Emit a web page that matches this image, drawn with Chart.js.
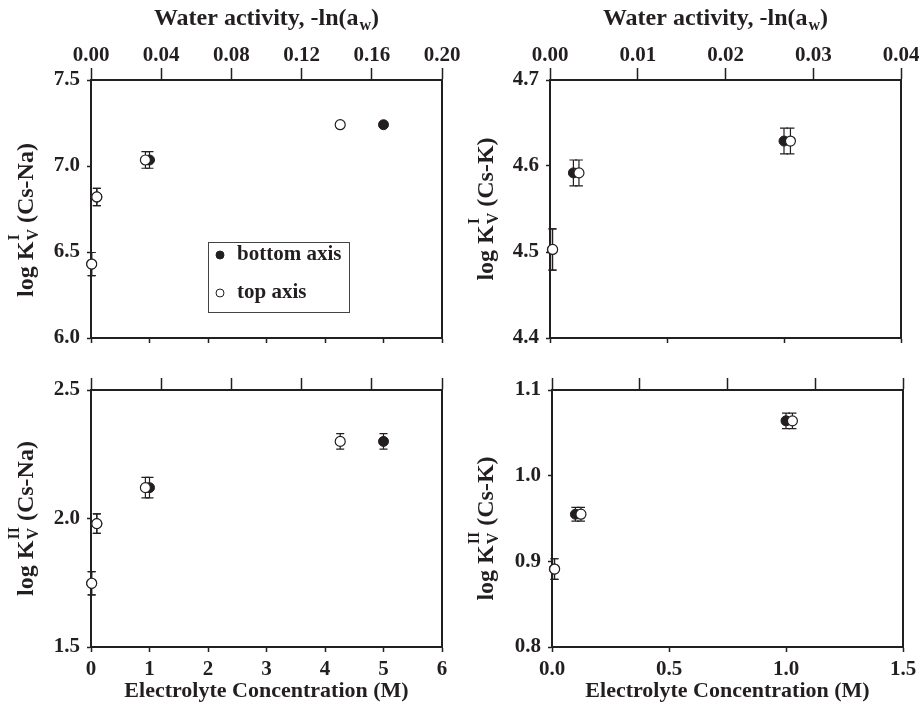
<!DOCTYPE html>
<html>
<head>
<meta charset="utf-8">
<script src="https://cdn.jsdelivr.net/npm/chart.js@4"></script>
<style>
  body { margin: 0; background: #fff; }
  #wrap { position: relative; width: 919px; height: 708px; background: #fff; }
  canvas { position: absolute; }
</style>
</head>
<body>
<div id="wrap">
  <canvas id="c-tl" width="460" height="360" style="left:0;top:0"></canvas>
  <canvas id="c-tr" width="459" height="360" style="left:460px;top:0"></canvas>
  <canvas id="c-bl" width="460" height="348" style="left:0;top:360px"></canvas>
  <canvas id="c-br" width="459" height="348" style="left:460px;top:360px"></canvas>
</div>
<script>
// Cs-Na exchange (NaCl background)
const concNa = [0.01, 0.1, 1.0, 5.0];
const awNa = [0.0004, 0.0033, 0.031, 0.142];
const kvINa = [6.43, 6.82, 7.035, 7.24];
const kvINaErr = [0.067, 0.05, 0.048, 0.015];
const kvIINa = [1.748, 1.98, 2.12, 2.30];
const kvIINaErr = [0.045, 0.038, 0.04, 0.03];

// Cs-K exchange (KCl background)
const concK = [0.01, 0.1, 1.0];
const awK = [0.0003, 0.0033, 0.0274];
const kvIK = [4.503, 4.592, 4.629];
const kvIKErr = [0.024, 0.015, 0.015];
const kvIIK = [0.891, 0.955, 1.064];
const kvIIKErr = [0.012, 0.008, 0.009];

const legendLabels = ['bottom axis', 'top axis'];
const topTitle = ['Water activity, -ln(a', 'w', ')'];
const bottomTitle = 'Electrolyte Concentration (M)';

const INK = '#231f20';
const FAMILY = '"Liberation Serif", "Times New Roman", serif';
const TITLE = 'bold 24px ' + FAMILY;
const SMALL = 'bold 16px ' + FAMILY;
const LEGEND = 'bold 21px ' + FAMILY;

Chart.defaults.font.family = FAMILY;
Chart.defaults.font.weight = 'bold';
Chart.defaults.font.size = 21;
Chart.defaults.color = INK;

const pair = (xs, ys) => xs.map((x, i) => ({x: x, y: ys[i]}));

// error bars drawn under the markers
const errorBars = {
  id: 'errorBars',
  beforeDatasetsDraw(chart) {
    const ctx = chart.ctx;
    chart.data.datasets.forEach((ds, i) => {
      const meta = chart.getDatasetMeta(i);
      const ys = chart.scales[meta.yAxisID];
      ctx.save();
      ctx.strokeStyle = INK;
      ctx.lineWidth = 1.2;
      meta.data.forEach((pt, j) => {
        const v = ds.data[j].y, e = ds.errors[j];
        const y1 = ys.getPixelForValue(v - e), y2 = ys.getPixelForValue(v + e);
        ctx.beginPath();
        ctx.moveTo(pt.x, y1); ctx.lineTo(pt.x, y2);
        ctx.moveTo(pt.x - 4, y1); ctx.lineTo(pt.x + 4, y1);
        ctx.moveTo(pt.x - 4, y2); ctx.lineTo(pt.x + 4, y2);
        ctx.stroke();
      });
      ctx.restore();
    });
  }
};

// titles with sub/superscripts
function partWidth(ctx, p) {
  if (typeof p === 'string') { ctx.font = TITLE; return ctx.measureText(p).width; }
  ctx.font = SMALL;
  return Math.max(ctx.measureText(p.sub || '').width, ctx.measureText(p.sup || '').width) + 1;
}
function drawRich(ctx, parts, cx, cy, angle) {
  const total = parts.reduce((s, p) => s + partWidth(ctx, p), 0);
  ctx.save();
  ctx.translate(cx, cy);
  ctx.rotate(angle);
  ctx.fillStyle = INK;
  ctx.textBaseline = 'alphabetic';
  ctx.textAlign = 'left';
  let x = -total / 2;
  parts.forEach(p => {
    const w = partWidth(ctx, p);
    if (typeof p === 'string') {
      ctx.font = TITLE; ctx.fillText(p, x, 8);
    } else {
      ctx.font = SMALL;
      if (p.sub) ctx.fillText(p.sub, x + 1, 13);
      if (p.sup) ctx.fillText(p.sup, x + 1, -6);
    }
    x += w;
  });
  ctx.restore();
}
const richTitles = {
  id: 'richTitles',
  afterDraw(chart, args, opts) {
    const ctx = chart.ctx, ca = chart.chartArea;
    const cy = (ca.top + ca.bottom) / 2 + opts.yShift;
    drawRich(ctx, ['log K', {sub: 'V', sup: opts.roman}, ' (' + opts.ion + ')'], 25, cy, -Math.PI / 2);
    if (opts.showTop) {
      drawRich(ctx, [topTitle[0], {sub: topTitle[1]}, topTitle[2]], (ca.left + ca.right) / 2 + opts.topShift, 17, 0);
    }
  }
};

// legend box inside the plot area
const boxLegend = {
  id: 'boxLegend',
  afterDraw(chart, args, opts) {
    if (!opts.show) return;
    const ctx = chart.ctx, ca = chart.chartArea;
    const bx = ca.left + opts.left, by = ca.top + opts.top;
    ctx.save();
    ctx.strokeStyle = '#444';
    ctx.lineWidth = 1;
    ctx.strokeRect(bx + 0.5, by + 0.5, opts.width, opts.height);
    chart.data.datasets.forEach((ds, i) => {
      const ry = by + 13 + i * 38;
      ctx.beginPath();
      ctx.arc(bx + 12, ry, 4, 0, Math.PI * 2);
      ctx.fillStyle = ds.backgroundColor;
      ctx.fill();
      ctx.strokeStyle = INK;
      ctx.lineWidth = 1;
      ctx.stroke();
      ctx.fillStyle = INK;
      ctx.font = LEGEND;
      ctx.textBaseline = 'middle';
      ctx.fillText(ds.label, bx + 29, ry);
    });
    ctx.restore();
  }
};

const panels = [
  {id: 'c-tl', conc: concNa, aw: awNa, y: kvINa, err: kvINaErr, roman: 'I', ion: 'Cs-Na',
   xMax: 6, xStep: 1, xDec: 0, awMax: 0.2, awStep: 0.04, yMin: 6.0, yMax: 7.5, yStep: 0.5,
   top: true, legend: true, yShift: 11, topShift: 0,
   area: {left: 91, right: 442, top: 80, bottom: 338}},
  {id: 'c-tr', conc: concK, aw: awK, y: kvIK, err: kvIKErr, roman: 'I', ion: 'Cs-K',
   xMax: 1.5, xStep: 0.5, xDec: 1, awMax: 0.04, awStep: 0.01, yMin: 4.4, yMax: 4.7, yStep: 0.1,
   top: true, legend: false, yShift: 0, topShift: -10,
   area: {left: 90, right: 441, top: 80, bottom: 338}},
  {id: 'c-bl', conc: concNa, aw: awNa, y: kvIINa, err: kvIINaErr, roman: 'II', ion: 'Cs-Na',
   xMax: 6, xStep: 1, xDec: 0, awMax: 0.2, awStep: 0.04, yMin: 1.5, yMax: 2.5, yStep: 0.5,
   top: false, legend: false, yShift: 0, topShift: 0,
   area: {left: 91, right: 442, top: 30, bottom: 287}},
  {id: 'c-br', conc: concK, aw: awK, y: kvIIK, err: kvIIKErr, roman: 'II', ion: 'Cs-K',
   xMax: 1.5, xStep: 0.5, xDec: 1, awMax: 0.04, awStep: 0.01, yMin: 0.8, yMax: 1.1, yStep: 0.1,
   top: false, legend: false, yShift: 10, topShift: 0,
   area: {left: 92, right: 443, top: 30, bottom: 287}}
];

panels.forEach(p => {
  const canvas = document.getElementById(p.id);
  const W = canvas.width, H = canvas.height, a = p.area;
  const grid = (len) => ({drawOnChartArea: false, drawTicks: true, tickLength: len, tickWidth: 1.5, color: INK});
  const border = {display: true, color: INK, width: 2};

  new Chart(canvas, {
    type: 'scatter',
    data: {
      datasets: [
        {label: legendLabels[0], data: pair(p.conc, p.y), errors: p.err, xAxisID: 'x', yAxisID: 'y',
         backgroundColor: INK, borderColor: INK, pointRadius: 5, borderWidth: 1, order: 1, clip: false},
        {label: legendLabels[1], data: pair(p.aw, p.y), errors: p.err, xAxisID: 'x2', yAxisID: 'y',
         backgroundColor: '#ffffff', borderColor: INK, pointRadius: 5, borderWidth: 1.2, order: 0, clip: false}
      ]
    },
    options: {
      responsive: false,
      devicePixelRatio: 1,
      animation: false,
      layout: {padding: 0},
      plugins: {
        legend: {display: false},
        tooltip: {enabled: false},
        richTitles: {roman: p.roman, ion: p.ion, showTop: p.top, yShift: p.yShift, topShift: p.topShift},
        boxLegend: {show: p.legend, left: 117, top: 162, width: 141, height: 70}
      },
      scales: {
        x: {
          type: 'linear', position: 'bottom', min: 0, max: p.xMax,
          ticks: {stepSize: p.xStep, display: !p.top, padding: 5, maxRotation: 0,
                  callback: v => v.toFixed(p.xDec)},
          grid: grid(5), border: border,
          title: {display: !p.top, text: bottomTitle, font: {size: 22}, padding: {top: 0, bottom: 3}},
          afterFit: s => { s.height = H - a.bottom; s.paddingLeft = 0; s.paddingRight = 0; }
        },
        x2: {
          type: 'linear', position: 'top', min: 0, max: p.awMax,
          ticks: {stepSize: p.awStep, display: p.top, padding: 0, maxRotation: 0,
                  callback: v => v.toFixed(2)},
          grid: grid(12), border: border,
          afterFit: s => { s.height = a.top; s.paddingLeft = 0; s.paddingRight = 0; }
        },
        y: {
          type: 'linear', position: 'left', min: p.yMin, max: p.yMax,
          ticks: {stepSize: p.yStep, padding: 7, callback: v => v.toFixed(1)},
          grid: grid(4), border: border,
          afterFit: s => { s.width = a.left; s.paddingTop = 0; s.paddingBottom = 0; }
        },
        y2: {
          type: 'linear', position: 'right', min: 0, max: 1,
          ticks: {display: false}, grid: {display: false}, border: border,
          afterFit: s => { s.width = W - a.right; s.paddingTop = 0; s.paddingBottom = 0; }
        }
      }
    },
    plugins: [errorBars, richTitles, boxLegend]
  });
});
</script>
</body>
</html>
